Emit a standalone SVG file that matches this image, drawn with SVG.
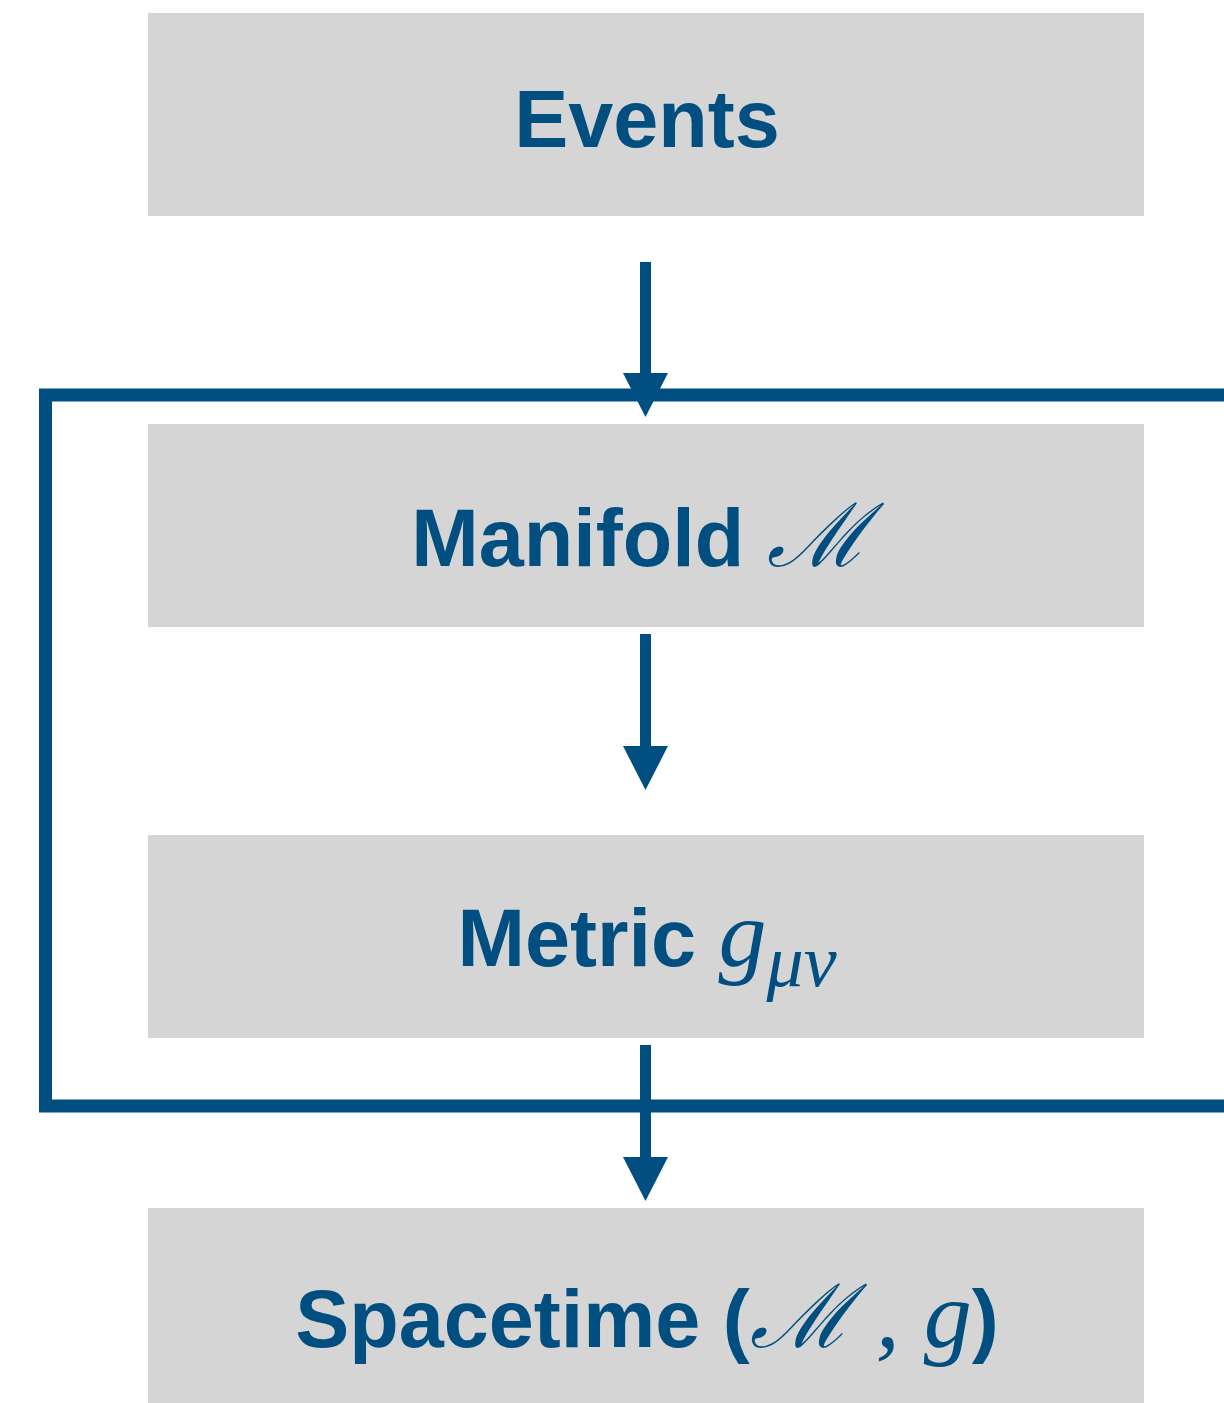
<svg xmlns="http://www.w3.org/2000/svg" width="1224" height="1403" viewBox="0 0 1224 1403">
<style>
.box{fill:#d5d5d5}
.lbl{font-family:"Liberation Sans",Arial,sans-serif;font-weight:bold;font-size:81px;fill:#004f80}
.m{font-family:"Liberation Serif","DejaVu Serif",serif;font-style:italic;font-weight:normal}
.ln{stroke:#004f80;stroke-width:11;fill:none}
.frame{stroke:#004f80;stroke-width:13;fill:none}
.ah{fill:#004f80}
</style>
<rect width="1224" height="1403" fill="#ffffff"/>
<g id="frame">
<path class="frame" d="M1230,395 H45.5 V1106 H1230"/>
</g>
<g id="events">
<rect class="box" x="148" y="13" width="996" height="203"/>
<text class="lbl" x="647" y="147" text-anchor="middle">Events</text>
</g>
<g id="manifold">
<rect class="box" x="148" y="424" width="996" height="203"/>
<text class="lbl" x="640" y="566" text-anchor="middle">Manifold <tspan class="m" font-size="88">ℳ</tspan></text>
</g>
<g id="metric">
<rect class="box" x="148" y="835" width="996" height="203"/>
<text class="lbl" x="647" y="966" text-anchor="middle">Metric <tspan class="m" font-size="96">g</tspan><tspan class="m" font-size="74" dy="20">μν</tspan></text>
</g>
<g id="spacetime">
<rect class="box" x="148" y="1208" width="996" height="200"/>
<text class="lbl" x="647" y="1347" text-anchor="middle">Spacetime (<tspan class="m" font-size="88">ℳ</tspan><tspan class="m" font-size="96"> , g</tspan>)</text>
</g>
<g id="connectors">
<line class="ln" x1="645.5" y1="262" x2="645.5" y2="380"/>
<polygon class="ah" points="623,373 668,373 645.5,417"/>
<line class="ln" x1="645.5" y1="634" x2="645.5" y2="752"/>
<polygon class="ah" points="623,746 668,746 645.5,790"/>
<line class="ln" x1="645.5" y1="1045" x2="645.5" y2="1163"/>
<polygon class="ah" points="623,1157 668,1157 645.5,1201"/>
</g>
</svg>
